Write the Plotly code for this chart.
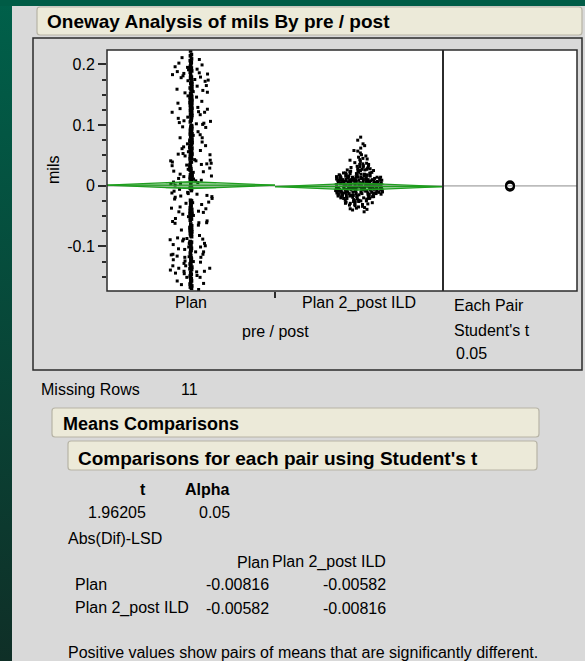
import math
import plotly.graph_objects as go

# ---- data -------------------------------------------------------------
categories = ["Plan", "Plan 2_post ILD"]

plan_mils = [
    0.214, -0.132, 0.057, 0.183, -0.041, 0.121, -0.098, 0.006, 0.162, -0.117, 0.089, -0.012,
    0.197, -0.065, 0.034, -0.151, 0.142, 0.072, -0.083, 0.019, 0.105, -0.027, 0.176, -0.142,
    0.048, 0.131, -0.106, 0.003, 0.209, -0.054, 0.094, -0.124, 0.158, -0.019, 0.067, -0.088,
    0.115, -0.161, 0.026, 0.188, -0.046, 0.139, -0.071, 0.012, 0.169, -0.113, 0.081, -0.031,
    0.201, -0.145, 0.052, 0.127, -0.094, 0.009, 0.149, -0.058, 0.098, -0.136, 0.038, 0.174,
    -0.077, 0.109, -0.008, 0.192, -0.121, 0.063, -0.036, 0.136, -0.167, 0.023, 0.085, -0.101,
    0.156, -0.049, 0.116, -0.139, 0.044, 0.181, -0.069, 0.001, 0.124, -0.091, 0.075, -0.022,
    0.205, -0.128, 0.059, 0.146, -0.111, 0.015, 0.093, -0.062, 0.171, -0.148, 0.031, 0.111,
    -0.039, 0.153, -0.084, 0.069, -0.004, 0.186, -0.119, 0.041, 0.133, -0.073, 0.097, -0.157,
    0.018, 0.165, -0.052, 0.079, -0.134, 0.029, 0.119, -0.016, 0.194, -0.097, 0.054, -0.125,
    0.222, -0.044, 0.087, -0.109, 0.137, 0.011, -0.079, 0.178, -0.143, 0.064, -0.025, 0.102,
    -0.153, 0.049, 0.159, -0.067, 0.007, 0.126, -0.103, 0.083, -0.033, 0.199, -0.131, 0.037,
    0.144, -0.086, 0.071, -0.011, 0.168, -0.116, 0.021, 0.107, -0.057, 0.184, -0.165, 0.056,
    -0.002, 0.129, -0.093, 0.077, -0.138, 0.035, 0.151, -0.047, 0.091, -0.126, 0.013, 0.173,
    -0.074, 0.113, -0.029, 0.208, -0.107, 0.061, -0.149, 0.027, 0.141, -0.061, 0.099, -0.014,
    0.163, -0.122, 0.045, 0.122, -0.081, 0.004, 0.189, -0.141, 0.073, -0.037, 0.134, -0.099,
    0.017, 0.155, -0.055, 0.086, -0.159, 0.039, 0.118, -0.021, 0.179, -0.113, 0.066, -0.043,
    0.147, -0.088, 0.025, 0.196, -0.129, 0.053, -0.006, 0.104, -0.071, 0.166, -0.146, 0.033,
    0.128, -0.035, 0.082, -0.118, 0.010, 0.211, -0.063, 0.096, -0.136, 0.042, 0.152, -0.051,
    0.076, -0.095, 0.002, 0.175, -0.153, 0.058, 0.114, -0.028, 0.187, -0.104, 0.047, -0.171,
    0.203, -0.118, 0.068, -0.009, 0.143, -0.087, 0.028, 0.172, -0.137, 0.051, -0.045, 0.117,
    -0.155, 0.084, 0.014, 0.191, -0.066, 0.101, -0.123, 0.036, 0.161, -0.018, 0.074, -0.109,
    0.132, -0.148, 0.046, 0.185, -0.076, 0.008, 0.124, -0.038, 0.095, -0.132, 0.062, 0.157,
    -0.092, 0.022, 0.206, -0.059, 0.112, -0.163, 0.039, 0.148, -0.024, 0.079, -0.115, 0.005,
    0.177, -0.082, 0.058, -0.141, 0.135, -0.013, 0.091, -0.101, 0.032, 0.195, -0.053, 0.121,
    -0.128, 0.043, -0.003, 0.164, -0.079, 0.106, -0.157, 0.016, 0.139, -0.042, 0.071, -0.095,
    0.216, -0.121, 0.055, 0.097, -0.068, 0.024, 0.182, -0.144, 0.087, -0.017, 0.128, -0.105,
    0.011, 0.154, -0.048, 0.066, -0.169, 0.034, 0.119, -0.029, 0.168, -0.089, 0.049, -0.136,
    0.108, -0.006, 0.193, -0.114, 0.076, -0.061, 0.145, -0.151, 0.029, 0.089, -0.034, 0.179,
    -0.097, 0.052, 0.131, -0.127, 0.019, 0.202, -0.072, 0.103, -0.045, 0.159, -0.162, 0.041,
]

post_mils = [
    0.004, -0.011, 0.018, -0.003, 0.027, -0.019, 0.009, -0.007, 0.013, -0.026, 0.001, 0.022,
    -0.014, 0.006, -0.031, 0.016, -0.002, 0.035, -0.009, 0.011, -0.021, 0.003, 0.029, -0.016,
    0.008, -0.005, 0.042, -0.012, 0.015, -0.036, 0.002, 0.024, -0.008, 0.012, -0.023, 0.005,
    0.051, -0.017, 0.007, -0.001, 0.019, -0.028, 0.010, -0.006, 0.033, -0.013, 0.000, 0.021,
    -0.039, 0.014, -0.004, 0.026, -0.010, 0.058, -0.018, 0.004, -0.024, 0.017, -0.003, 0.038,
    -0.015, 0.009, -0.007, 0.031, -0.029, 0.002, 0.045, -0.011, 0.013, -0.020, 0.006, -0.002,
    0.066, -0.033, 0.011, -0.009, 0.023, -0.016, 0.001, 0.036, -0.006, 0.016, -0.025, 0.008,
    -0.043, 0.020, -0.012, 0.003, 0.047, -0.019, 0.010, -0.004, 0.028, -0.008, 0.014, -0.030,
    0.075, -0.014, 0.005, -0.001, 0.025, -0.022, 0.012, -0.010, 0.040, -0.017, 0.007, -0.035,
    0.018, -0.005, 0.032, -0.027, 0.001, 0.080, -0.013, 0.009, -0.021, 0.015, -0.003, 0.054,
    -0.007, 0.011, -0.018, 0.004, 0.030, -0.040, 0.019, -0.011, 0.002, 0.062, -0.015, 0.007,
    -0.024, 0.012, -0.006, 0.035, -0.032, 0.010, 0.000, 0.044, -0.009, 0.017, -0.020, 0.006,
    -0.001, 0.027, -0.013, 0.008, 0.049, -0.037, 0.014, -0.004, 0.021, -0.016, 0.003, -0.008,
    0.002, -0.006, 0.010, -0.002, 0.005, -0.013, 0.008, -0.004, 0.015, -0.009, 0.001, -0.018,
    0.012, -0.001, 0.006, -0.011, 0.020, -0.005, 0.003, -0.015, 0.009, -0.007, 0.024, -0.003,
    0.004, -0.012, 0.014, -0.022, 0.007, 0.000, -0.010, 0.017, -0.004, 0.011, -0.027, 0.002,
    0.019, -0.008, 0.006, -0.014, 0.028, -0.002, 0.009, -0.019, 0.013, -0.006, 0.003, -0.031,
    0.022, -0.010, 0.005, -0.001, 0.016, -0.016, 0.008, -0.024, 0.037, -0.007, 0.001, -0.012,
    0.010, -0.003, 0.025, -0.020, 0.004, -0.009, 0.012, -0.034, 0.007, -0.005, 0.018, -0.013,
    0.002, 0.031, -0.017, 0.006, -0.002, 0.013, -0.026, 0.009, -0.008, 0.021, -0.011, 0.000,
    0.043, -0.004, 0.011, -0.021, 0.005, -0.014, 0.016, -0.001, 0.008, -0.038, 0.026, -0.006,
    0.003, -0.010, 0.014, -0.018, 0.057, -0.003, 0.007, -0.025, 0.012, -0.008, 0.020, -0.012,
    0.004, -0.002, 0.033, -0.015, 0.010, -0.006, 0.002, -0.029, 0.015, -0.009, 0.069, -0.004,
]

group_means = [0.0008, -0.00154]
t_value = 1.96205
alpha = 0.05
lsd = 0.00816
missing_rows = 11
lsd_table = [[-0.00816, -0.00582],
             [-0.00582, -0.00816]]

# ---- page geometry helpers (pixels -> paper) ---------------------------
W, H = 585, 661


def px(x):
    return x / W


def py(y):
    return 1 - y / H


FONT = "Liberation Sans, Arial, sans-serif"
GRAY = "#d9d9d9"
BEIGE = "#ecead9"
BEIGE_EDGE = "#b7b4a6"
FRAME = "#2b2b2b"
GREEN = "#1f9e1f"

fig = go.Figure()

# window chrome: left green strip with a smooth vertical gradient (own hidden axes)
fig.add_trace(go.Scatter(x=[0, 1, 1, 0, 0], y=[0, 0, 1, 1, 0], mode="lines",
                         xaxis="x3", yaxis="y3", fill="toself",
                         line=dict(width=0),
                         fillgradient=dict(type="vertical",
                                           colorscale=[[0, "#0f2f27"], [1, "#00604a"]]),
                         hoverinfo="skip"))

# grand mean reference line across both panels
grand_mean = sum(group_means) / len(group_means)
fig.add_trace(go.Scatter(x=[-0.5, 1.5], y=[grand_mean, grand_mean], mode="lines",
                         line=dict(color="#8c8c8c", width=1), xaxis="x", yaxis="y",
                         hoverinfo="skip"))
fig.add_trace(go.Scatter(x=[-1, 1], y=[grand_mean, grand_mean], mode="lines",
                         line=dict(color="#8c8c8c", width=1), xaxis="x2", yaxis="y",
                         hoverinfo="skip"))

# means diamonds (95% CI height, equal group widths)
half_ci = lsd / math.sqrt(2)
for i, m in enumerate(group_means):
    fig.add_trace(go.Scatter(
        x=[i - 0.5, i, i + 0.5, i, i - 0.5],
        y=[m, m + half_ci, m, m - half_ci, m],
        mode="lines", fill="toself", fillcolor="rgba(40,150,40,0.35)",
        line=dict(color=GREEN, width=1.3), hoverinfo="skip"))
    fig.add_trace(go.Scatter(x=[i - 0.5, i + 0.5], y=[m, m], mode="lines",
                             line=dict(color=GREEN, width=1.3), hoverinfo="skip"))
    ov = half_ci / math.sqrt(2)
    for s in (1, -1):
        fig.add_trace(go.Scatter(x=[i - 0.15, i + 0.15], y=[m + s * ov, m + s * ov],
                                 mode="lines", line=dict(color=GREEN, width=1),
                                 hoverinfo="skip"))

# jittered data points
point_style = dict(color="black", size=3, symbol="square", line=dict(width=0))
box_common = dict(boxpoints="all", pointpos=0, width=0.7,
                  line=dict(color="rgba(0,0,0,0)", width=0),
                  fillcolor="rgba(0,0,0,0)", marker=point_style,
                  hoveron="points", showlegend=False)
fig.add_trace(go.Box(y=plan_mils[1::2], x=[0] * len(plan_mils[1::2]), jitter=0.36,
                     **box_common))
fig.add_trace(go.Box(y=plan_mils[0::2], x=[0] * len(plan_mils[0::2]), jitter=0.018,
                     **{**box_common, "marker": {**point_style, "size": 3.6}}))
fig.add_trace(go.Box(y=post_mils, x=[1] * len(post_mils), jitter=0.4, **box_common))

# comparison circles
fig.add_trace(go.Scatter(x=[0] * len(group_means), y=group_means, mode="markers",
                         xaxis="x2", yaxis="y",
                         marker=dict(symbol="circle-open", size=8, color="black",
                                     line=dict(width=2, color="black")),
                         hoverinfo="skip"))

x_dom = [px(107), px(443)]
x2_dom = [px(443), px(577)]
y_dom = [py(291), py(50)]
hidden = dict(showticklabels=False, ticks="", showgrid=False, zeroline=False,
              showline=False, fixedrange=True)

fig.update_layout(
    width=W, height=H, margin=dict(l=0, r=0, t=0, b=0),
    paper_bgcolor=GRAY, plot_bgcolor="white",
    showlegend=False, boxmode="overlay",
    font=dict(family=FONT, size=16, color="black"),
    xaxis=dict(domain=x_dom, range=[-0.5, 1.5], anchor="y",
               tickmode="array", tickvals=[0, 1], ticktext=categories,
               ticks="", showgrid=False, zeroline=False, showline=False,
               tickfont=dict(size=16),
               minor=dict(tickmode="array", tickvals=[0.5], ticks="outside",
                          ticklen=6, tickwidth=1.5, tickcolor=FRAME, showgrid=False)),
    xaxis2=dict(domain=x2_dom, range=[-1, 1], anchor="y", **hidden),
    xaxis3=dict(domain=[0, px(12)], range=[0, 1], anchor="y3", **hidden),
    yaxis3=dict(domain=[0, 1], range=[0, 1], anchor="x3", **hidden),
    yaxis=dict(domain=y_dom, range=[-0.1735, 0.2236], anchor="x",
               tickmode="array", tickvals=[-0.1, 0, 0.1, 0.2],
               ticktext=["-0.1", "0", "0.1", "0.2"],
               ticks="outside", ticklen=8, tickwidth=1.5, tickcolor=FRAME,
               showgrid=False, zeroline=False, showline=False,
               tickfont=dict(size=16),
               minor=dict(dtick=0.025, tick0=0, ticks="outside", ticklen=4,
                          tickwidth=1.5, tickcolor=FRAME, showgrid=False)),
)


def rounded_box(x0, y0, x1, y1, r=3):
    X0, X1 = px(x0), px(x1)
    Y0, Y1 = py(y0), py(y1)
    rx, ry = r / W, r / H
    path = (f"M{X0 + rx},{Y0} L{X1 - rx},{Y0} Q{X1},{Y0} {X1},{Y0 - ry} "
            f"L{X1},{Y1 + ry} Q{X1},{Y1} {X1 - rx},{Y1} L{X0 + rx},{Y1} "
            f"Q{X0},{Y1} {X0},{Y1 + ry} L{X0},{Y0 - ry} Q{X0},{Y0} {X0 + rx},{Y0} Z")
    return dict(type="path", xref="paper", yref="paper", path=path,
                fillcolor=BEIGE, line=dict(color=BEIGE_EDGE, width=1.2), layer="below")


shapes = [
    # green bar along the top
    dict(type="rect", xref="paper", yref="paper", x0=0, x1=1, y0=py(6), y1=1,
         fillcolor="#005c46", line=dict(width=0), layer="above"),
    # outline boxes
    rounded_box(37, 7, 582, 35),
    rounded_box(52, 408, 539, 437),
    rounded_box(68, 441, 537, 470),
    dict(type="rect", xref="paper", yref="paper",
         x0=px(33), x1=px(582), y0=py(370), y1=py(38),
         line=dict(color=FRAME, width=1.5), layer="below"),
    # plot frame and panel divider
    dict(type="rect", xref="paper", yref="paper",
         x0=px(107), x1=px(577), y0=py(291), y1=py(50),
         line=dict(color=FRAME, width=1.5), layer="above"),
    dict(type="line", xref="paper", yref="paper",
         x0=px(443), x1=px(443), y0=py(291), y1=py(50),
         line=dict(color=FRAME, width=2), layer="above"),
]
fig.update_layout(shapes=shapes)


def text(x, y, s, size=16, bold=False, xanchor="left", angle=0):
    return dict(x=px(x), y=py(y), xref="paper", yref="paper", text=f"<b>{s}</b>" if bold else s,
                showarrow=False, xanchor=xanchor, yanchor="middle", textangle=angle,
                font=dict(family=FONT, size=size, color="black"))


ann = [
    text(45, 22, "Oneway Analysis of mils By pre / post", size=19, bold=True),
    text(53, 170, "mils", angle=-90, xanchor="center"),
    text(275, 331, "pre / post", xanchor="center"),
    text(452, 305, "Each Pair"),
    text(452, 330, "Student's t"),
    text(454, 353, f"{alpha:g}"),
    text(39, 389, "Missing Rows"),
    text(179, 389, str(missing_rows)),
    text(61, 424, "Means Comparisons", size=18, bold=True),
    text(76, 458, "Comparisons for each pair using Student's t", size=19, bold=True),
    text(148, 489, "t", bold=True, xanchor="right"),
    text(232, 489, "Alpha", bold=True, xanchor="right"),
    text(148, 512, f"{t_value:.5f}", xanchor="right"),
    text(232, 512, f"{alpha:g}", xanchor="right"),
    text(66, 538, "Abs(Dif)-LSD"),
    text(271, 562, categories[0], xanchor="right"),
    text(388, 562, categories[1], xanchor="right"),
    text(66, 652, "Positive values show pairs of means that are significantly different."),
]
for r, name in enumerate(categories):
    yrow = 584 + 24 * r
    ann.append(text(73, yrow, name))
    ann.append(text(271, yrow, f"{lsd_table[r][0]:.5f}", xanchor="right"))
    ann.append(text(388, yrow, f"{lsd_table[r][1]:.5f}", xanchor="right"))
fig.update_layout(annotations=ann)

fig.write_html("out.html")
